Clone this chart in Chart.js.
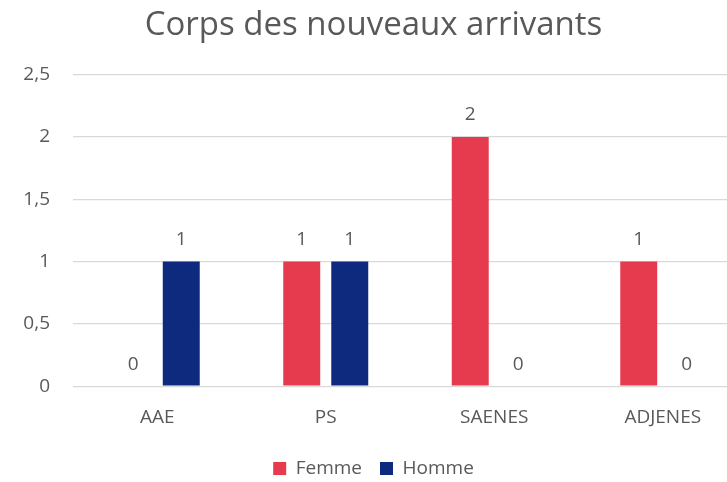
<!DOCTYPE html>
<html>
<head>
<meta charset="utf-8">
<script src="https://cdn.jsdelivr.net/npm/chart.js@4/dist/chart.umd.min.js"></script>
<style>
    html, body { margin: 0; padding: 0; background: #fff; overflow: hidden; }
    .chart-wrapper { position: absolute; left: 0; top: 0; width: 747px; height: 482px; }
</style>
</head>
<body>
<div class="chart-wrapper"><canvas id="chart" width="747" height="482"></canvas></div>
<script>
// Data
const categories = ["AAE", "PS", "SAENES", "ADJENES"];
const femmeValues = [0, 1, 2, 1];
const hommeValues = [1, 1, 0, 0];
const yTicks = [0, 0.5, 1, 1.5, 2, 2.5];

const colorRed = "#E63B4F";
const colorBlue = "#0D2A7E";
const colorText = "#595959";
const fontFamily = "'Open Sans', 'Noto Sans', sans-serif";

// Value labels above each bar
const barLabels = {
    id: "barLabels",
    afterDatasetsDraw(chart) {
        const ctx = chart.ctx;
        ctx.save();
        ctx.fillStyle = colorText;
        ctx.font = "19px " + fontFamily;
        ctx.textAlign = "center";
        ctx.textBaseline = "middle";
        chart.data.datasets.forEach((ds, i) => {
            chart.getDatasetMeta(i).data.forEach((bar, j) => {
                ctx.fillText(String(ds.data[j]), bar.x, bar.y - 22);
            });
        });
        ctx.restore();
    }
};

new Chart(document.getElementById("chart"), {
    type: "bar",
    data: {
        labels: categories,
        datasets: [
            { label: "Femme", data: femmeValues, backgroundColor: colorRed },
            { label: "Homme", data: hommeValues, backgroundColor: colorBlue }
        ]
    },
    options: {
        responsive: false,
        animation: false,
        datasets: {
            bar: { categoryPercentage: 0.57, barPercentage: 0.77 }
        },
        layout: { padding: { left: 0, right: 0, top: 6, bottom: -6 } },
        plugins: {
            title: {
                display: true,
                text: "Corps des nouveaux arrivants",
                color: colorText,
                font: { family: fontFamily, size: 33, weight: "normal" },
                padding: { top: 0, bottom: 29 }
            },
            legend: {
                position: "bottom",
                labels: {
                    color: colorText,
                    boxWidth: 13,
                    boxHeight: 13,
                    padding: 18,
                    font: { family: fontFamily, size: 19 }
                }
            },
            tooltip: { enabled: false }
        },
        scales: {
            x: {
                grid: { display: false },
                border: { display: false },
                ticks: { color: colorText, font: { family: fontFamily, size: 19 }, padding: 12 }
            },
            y: {
                min: 0,
                max: 2.5,
                afterBuildTicks: (scale) => { scale.ticks = yTicks.map(v => ({ value: v })); },
                afterFit: (scale) => { scale.width = 73; },
                grid: { color: "#D9D9D9", lineWidth: 1.3, drawTicks: false },
                border: { display: false },
                ticks: {
                    color: colorText,
                    padding: 23,
                    font: { family: fontFamily, size: 19 },
                    callback: (v) => String(v).replace(".", ",")
                }
            }
        }
    },
    plugins: [barLabels]
});
</script>
</body>
</html>
